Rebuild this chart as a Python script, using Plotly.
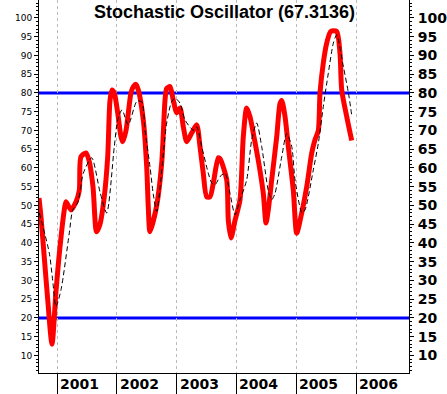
import plotly.graph_objects as go

# %K (red) : decimal year, value
K_T = [2000.699, 2000.732, 2000.788, 2000.844, 2000.916, 2000.983, 2001.038, 2001.122, 2001.150,
       2001.234, 2001.318, 2001.373, 2001.401, 2001.485, 2001.535, 2001.602, 2001.661, 2001.719,
       2001.791, 2001.848, 2001.886, 2001.920, 2001.958, 2002.015, 2002.070, 2002.099, 2002.154,
       2002.237, 2002.276, 2002.321, 2002.360, 2002.443, 2002.500, 2002.527, 2002.555, 2002.667,
       2002.751, 2002.806, 2002.834, 2002.890, 2002.945, 2003.002, 2003.057, 2003.112, 2003.169,
       2003.252, 2003.336, 2003.391, 2003.446, 2003.503, 2003.559, 2003.614, 2003.697, 2003.726,
       2003.838, 2003.865, 2003.910, 2003.977, 2004.060, 2004.115, 2004.172, 2004.227, 2004.283,
       2004.366, 2004.450, 2004.495, 2004.533, 2004.590, 2004.674, 2004.729, 2004.758, 2004.813,
       2004.868, 2004.952, 2005.008, 2005.092, 2005.176, 2005.259, 2005.314, 2005.370, 2005.398,
       2005.453, 2005.510, 2005.577, 2005.677, 2005.732, 2005.761, 2005.844, 2005.928]
K_V = [52, 47, 36, 25, 13, 27, 37, 48.8, 51,
       48.8, 51, 54, 63, 64, 62, 55, 43, 45,
       52.4, 63, 78, 80.8, 80, 74.7, 68.3, 67, 70,
       80, 81.7, 82.3, 80.8, 72.8, 60.3, 49.3, 43, 50,
       61.3, 78, 81.2, 81.7, 78, 74.7, 76, 71, 67,
       69.3, 71.5, 65.7, 58.6, 52.3, 52.3, 56, 62.7, 62.5,
       56.8, 46, 41.3, 46, 51.5, 68.3, 76, 73.7, 69.2,
       62, 53.2, 45.3, 48.8, 56.8, 68.3, 77.2, 78, 73.7,
       65.7, 54, 42.6, 48, 55, 63.9, 67.5, 70, 80,
       88, 93.3, 96.4, 96.4, 90.6, 80.8, 73.7, 67.3]

# %D (black dashed)
D_T = [2000.704, 2000.871, 2000.928, 2000.983, 2001.067, 2001.206, 2001.263, 2001.346, 2001.440,
       2001.580, 2001.719, 2001.831, 2001.958, 2002.015, 2002.087, 2002.192, 2002.333, 2002.416,
       2002.472, 2002.555, 2002.610, 2002.667, 2002.834, 2002.918, 2002.973, 2003.057, 2003.140,
       2003.279, 2003.336, 2003.420, 2003.530, 2003.587, 2003.642, 2003.726, 2003.809, 2003.893,
       2003.977, 2004.060, 2004.172, 2004.256, 2004.339, 2004.423, 2004.533, 2004.590, 2004.645,
       2004.758, 2004.841, 2004.925, 2004.980, 2005.097, 2005.147, 2005.286, 2005.370, 2005.453,
       2005.537, 2005.621, 2005.677, 2005.789, 2005.873, 2005.928]
D_V = [48, 37.3, 30, 23, 27.5, 42.7, 48.8, 50.7, 58.6,
       62.7, 53.6, 48, 65.7, 72.8, 75.5, 71.5, 77.7, 77.7,
       70, 60.3, 53, 48.4, 72, 77.7, 78.6, 77.3, 72.8,
       70.1, 71, 65.7, 58.6, 56, 55.5, 57.7, 58.6, 53.2,
       47.5, 51.5, 56.8, 67.5, 72, 65.7, 54, 51.5, 53.2,
       63, 69.2, 65.7, 56.8, 48, 48.8, 59.5, 66.6, 76.4,
       85.3, 93.3, 95.5, 87, 80, 74.1]

YEARS = [2001, 2002, 2003, 2004, 2005, 2006]
YEAR_LABELS = ["2001", "2002", "2003", "2004", "2005", "2006"]
LEVELS = [80, 20]
TITLE = "Stochastic Oscillator (67.3136)"
X_RANGE = [2000.699, 2006.886]
Y_RANGE = [5.3, 104.8]

fig = go.Figure()
fig.add_trace(go.Scatter(x=K_T, y=K_V, mode="lines",
                         line=dict(color="#FF0000", width=5, shape="spline", smoothing=0.7),
                         hoverinfo="skip"))
fig.add_trace(go.Scatter(x=D_T, y=D_V, mode="lines",
                         line=dict(color="#000000", width=1, dash="5px,3px", shape="spline", smoothing=0.7),
                         hoverinfo="skip"))
# invisible trace to anchor right axis
fig.add_trace(go.Scatter(x=[X_RANGE[0]], y=[Y_RANGE[0]], yaxis="y2", mode="markers",
                         marker=dict(opacity=0), hoverinfo="skip"))

for lv in LEVELS:
    fig.add_shape(type="line", xref="paper", x0=0, x1=1, yref="y", y0=lv, y1=lv,
                  line=dict(color="#0000FF", width=3), layer="below")

for yr, lab in zip(YEARS, YEAR_LABELS):
    fig.add_annotation(x=yr, y=0, xref="x", yref="paper", text=lab, showarrow=False,
                       xanchor="left", yanchor="middle", xshift=1, yshift=-11,
                       font=dict(family="DejaVu Sans", size=14, color="black", weight="bold"))

fig.add_annotation(x=0.5, y=1, xref="paper", yref="paper", text=TITLE, showarrow=False,
                   xanchor="center", yanchor="top", yshift=0,
                   font=dict(family="Liberation Sans", size=18, color="black", weight="bold"))

fig.update_layout(
    width=447, height=394,
    margin=dict(l=39, r=38, t=0, b=21),
    paper_bgcolor="white", plot_bgcolor="white",
    showlegend=False,
    xaxis=dict(range=X_RANGE, tickvals=YEARS, showticklabels=False,
               ticks="outside", ticklen=21, tickcolor="black", tickwidth=1,
               showline=True, linecolor="black", linewidth=1,
               showgrid=True, gridcolor="#BBBBBB", griddash="3px,3px", gridwidth=1,
               zeroline=False),
    yaxis=dict(range=Y_RANGE, tickmode="linear", tick0=10, dtick=5,
               ticks="outside", ticklen=4, tickcolor="black",
               minor=dict(dtick=1, tick0=0, ticklen=2, ticks="outside", tickcolor="black"),
               showline=True, linecolor="black", linewidth=1,
               showgrid=False, zeroline=False,
               tickfont=dict(family="DejaVu Sans", size=9, color="black")),
    yaxis2=dict(range=Y_RANGE, overlaying="y", side="right", tickmode="linear", tick0=10, dtick=5,
                ticks="outside", ticklen=4, tickcolor="black", ticklabelstandoff=1,
                minor=dict(dtick=1, tick0=0, ticklen=2, ticks="outside", tickcolor="black"),
                showline=True, linecolor="black", linewidth=1,
                showgrid=False, zeroline=False,
                tickfont=dict(family="DejaVu Sans", size=14, color="black", weight="bold")),
)

fig.write_html("out.html", config={"displayModeBar": False},
               post_script="document.body.style.margin='0';document.body.style.padding='0';")
